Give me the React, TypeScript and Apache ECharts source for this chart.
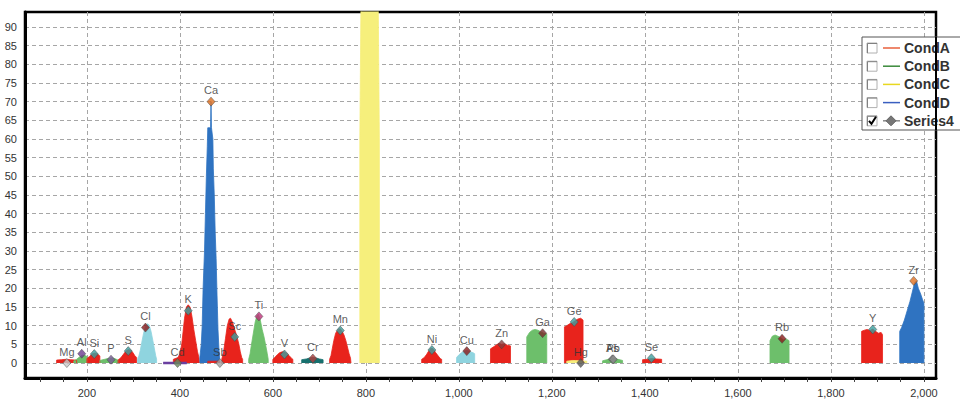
import React, { useEffect, useRef } from "react";
import * as echarts from "echarts";

// ---- data ----
const xLabelTicks = [200, 400, 600, 800, 1000, 1200, 1400, 1600, 1800, 2000];
const xMinorTicks = [100, 150, 200, 250, 300, 350, 400, 450, 500, 550, 600, 650, 700, 750, 800, 850, 900, 950, 1000, 1050, 1100, 1150, 1200, 1250, 1300, 1350, 1400, 1450, 1500, 1550, 1600, 1650, 1700, 1750, 1800, 1850, 1900, 1950, 2000];

const peakMg = [[135, 0], [135, 0.8], [145, 0.9], [155, 1.0], [165, 0.9], [175, 0.8], [178, 0.7], [178, 0]];
const peakAl = [[172, 0], [172, 0.6], [178, 1.0], [184, 1.6], [190, 2.1], [196, 2.0], [200, 1.8], [200, 0]];
const peakSi = [[200, 0], [200, 1.2], [206, 1.8], [212, 2.5], [218, 2.7], [223, 2.4], [228, 1.9], [228, 0]];
const peakP = [[228, 0], [228, 0.7], [238, 1.0], [248, 1.3], [255, 1.4], [262, 1.1], [267, 0.8], [267, 0]];
const peakS = [[267, 0], [267, 0.8], [273, 1.4], [279, 2.4], [284, 3.2], [289, 3.6], [294, 3.5], [299, 2.8], [303, 2.0], [307, 1.5], [307, 0]];
const peakCl = [[309, 0], [309, 1], [312, 2], [315, 3.5], [318, 5.5], [322, 8], [326, 9.8], [330, 10.5], [334, 10.2], [338, 8.5], [342, 6], [345, 4], [348, 2], [350, 1], [350, 0]];
const lineCd = [[364, 0], [415, 0]];
const peakK = [[386, 0], [386, 1], [396, 1.5], [400, 2.5], [404, 5], [407, 8.5], [410, 12], [414, 15], [418, 15.6], [422, 15], [426, 12.5], [430, 9], [434, 6], [438, 3], [441, 1.5], [442, 0]];
const peakCa = [[443, 0], [443, 1.5], [446, 5], [448, 10], [450, 20], [453, 30], [455, 40], [457, 50], [459, 58], [460, 63], [466, 63], [467, 70], [468, 63], [471, 60], [472, 52], [474, 45], [476, 35], [478, 28], [480, 18], [482, 9], [484, 4], [486, 0]];
const peakSb = [[460, 0], [460, 0.5], [486, 0.5], [486, 0]];
const peakSc = [[490, 0], [490, 1], [494, 3], [498, 6.5], [502, 10], [506, 11.8], [509, 12], [513, 11], [518, 9], [523, 7], [527, 5], [530, 3], [533, 1.5], [535, 1], [535, 0]];
const peakTi = [[548, 0], [548, 1], [551, 2.5], [554, 5], [558, 8], [562, 11], [566, 12.8], [569, 13], [573, 11.5], [577, 9], [581, 7], [585, 4.5], [588, 2.5], [590, 1], [590, 0]];
const peakV = [[600, 0], [600, 1], [605, 1.6], [610, 2.3], [615, 2.8], [620, 3.0], [625, 3.0], [630, 2.6], [635, 2.0], [640, 1.3], [643, 1], [643, 0]];
const peakCr = [[662, 0], [662, 0.9], [672, 1.1], [680, 1.4], [686, 1.6], [692, 1.4], [700, 1.1], [708, 0.9], [708, 0]];
const peakMn = [[722, 0], [722, 1], [725, 2], [728, 4], [731, 6], [735, 8], [740, 9], [745, 9.2], [749, 8.5], [753, 7.5], [757, 6], [761, 4], [764, 2.5], [767, 1.3], [768, 0]];
const peakFe = [[787, 0], [787, 60], [791, 120], [825, 120], [829, 60], [829, 0]];
const peakNi = [[920, 0], [920, 1.0], [925, 1.4], [930, 2.2], [935, 3.2], [940, 4.0], [945, 3.8], [950, 2.8], [955, 2.0], [960, 1.2], [963, 1.0], [963, 0]];
const peakCu = [[995, 0], [995, 1.5], [1000, 2.2], [1006, 2.8], [1012, 3.2], [1018, 3.4], [1024, 3.0], [1030, 2.8], [1034, 2.5], [1034, 0]];
const peakZn = [[1068, 0], [1068, 3.8], [1074, 4.3], [1080, 4.8], [1086, 5.3], [1092, 5.0], [1098, 5.2], [1104, 4.8], [1111, 4.6], [1111, 0]];
const peakGa = [[1146, 0], [1146, 7.0], [1152, 8.2], [1158, 8.8], [1164, 9.0], [1170, 8.8], [1176, 8.4], [1182, 8.0], [1189, 7.8], [1189, 0]];
const peakGe = [[1227, 0], [1227, 9.7], [1232, 10.0], [1238, 10.5], [1244, 10.8], [1250, 11.3], [1256, 11.8], [1262, 12.0], [1267, 11.5], [1267, 0]];
const peakHg = [[1232, 0], [1232, 0.5], [1245, 0.7], [1260, 0.6], [1275, 0.5], [1275, 0]];
const peakAsPb = [[1309, 0], [1309, 0.6], [1318, 0.9], [1326, 1.2], [1334, 1.3], [1342, 1.0], [1352, 0.7], [1352, 0]];
const peakSe = [[1395, 0], [1395, 0.9], [1405, 1.0], [1415, 1.2], [1425, 1.1], [1436, 1.0], [1436, 0]];
const peakRb = [[1669, 0], [1669, 6.0], [1674, 7.2], [1680, 7.5], [1686, 7.2], [1692, 6.8], [1698, 6.2], [1703, 6.5], [1710, 6.0], [1710, 0]];
const peakY = [[1866, 0], [1866, 8.5], [1872, 8.8], [1878, 9.0], [1884, 8.7], [1890, 9.1], [1896, 8.5], [1902, 8.0], [1908, 8.2], [1911, 7.6], [1911, 0]];
const peakZr = [[1948, 0], [1948, 8.5], [1952, 9.5], [1958, 11.5], [1964, 14], [1970, 16.5], [1975, 19], [1980, 21.5], [1984, 22], [1988, 20], [1993, 18.5], [1997, 17], [2000, 16], [2000, 0]];

// Series4: element markers
const markerNames = ["Mg", "Al", "Si", "P", "S", "Cl", "Cd", "K", "Ca", "Sb", "Sc", "Ti", "V", "Cr", "Mn", "Ni", "Cu", "Zn", "Ga", "Ge", "Hg", "As", "Pb", "Se", "Rb", "Y", "Zr"];
const markerX = [157, 189, 216, 252, 289, 326, 395, 418, 467, 486, 518, 570, 625, 686, 745, 942, 1017, 1092, 1180, 1248, 1262, 1330, 1332, 1414, 1695, 1890, 1978];
const markerY = [0, 2.5, 2.4, 0.9, 3.2, 9.5, 0, 14, 70, 0, 7, 12.5, 2.3, 1.2, 8.7, 3.5, 3.2, 5, 8, 11, 0, 1, 1, 1.3, 6.5, 9, 22];

const RED = "#e8231c";
const GREEN = "#6dbf6b";
const LBLUE = "#8fd4df";
const BLUE = "#2f73c1";
const YELLOW = "#f6ef7c";
const TEAL = "#17706e";

const markerColors = ["#c8c8c8", "#6b3b8e", "#3aa0a0", "#7a5a9a", "#3aa0a0", "#8b1a1a", "#6a8a5a", "#3aa0a0", "#e07020", "#a0a0a0", "#3aa0a0", "#c0307a", "#3aa0a0", "#b04040", "#3aa0a0", "#3aa0a0", "#8b1a1a", "#8b3a3a", "#7a2a2a", "#3aa0a0", "#555555", "#888888", "#888888", "#3aa0a0", "#8b1a1a", "#3aa0a0", "#e07020"];

const peaks: [string, number[][], string][] = [
  ["Mg", peakMg, RED],
  ["Al", peakAl, GREEN],
  ["Si", peakSi, RED],
  ["P", peakP, GREEN],
  ["S", peakS, RED],
  ["Cl", peakCl, LBLUE],
  ["K", peakK, RED],
  ["Ca", peakCa, BLUE],
  ["Sb", peakSb, RED],
  ["Sc", peakSc, RED],
  ["Ti", peakTi, GREEN],
  ["V", peakV, RED],
  ["Cr", peakCr, TEAL],
  ["Mn", peakMn, RED],
  ["Fe", peakFe, YELLOW],
  ["Ni", peakNi, RED],
  ["Cu", peakCu, LBLUE],
  ["Zn", peakZn, RED],
  ["Ga", peakGa, GREEN],
  ["Ge", peakGe, RED],
  ["Hg", peakHg, YELLOW],
  ["AsPb", peakAsPb, GREEN],
  ["Se", peakSe, RED],
  ["Rb", peakRb, GREEN],
  ["Y", peakY, RED],
  ["Zr", peakZr, BLUE],
];

const legendNames = ["CondA", "CondB", "CondC", "CondD", "Series4"];
const legendColors = ["#e8603c", "#3a8a3a", "#e8d820", "#3a5fc0", "#888888"];

const FONT = "'Liberation Sans', Arial, sans-serif";

function buildLegend(): any[] {
  const els: any[] = [];
  const x0 = 862, y0 = 37, rowH = 18.2;
  els.push({ type: "rect", z: 50, shape: { x: x0, y: y0, width: 120, height: 93 }, style: { fill: "#fff", stroke: "#555", lineWidth: 1 } });
  legendNames.forEach((name, i) => {
    const c = y0 + 11 + i * rowH;
    els.push({ type: "rect", z: 51, shape: { x: 867, y: c - 5, width: 10, height: 10 }, style: { fill: "#fff", stroke: "#b0b0b0", lineWidth: 1 } });
    els.push({ type: "polyline", z: 51, shape: { points: [[867.5, c + 5], [867.5, c - 4.5], [877, c - 4.5]] }, style: { stroke: "#808080", lineWidth: 1, fill: null } });
    els.push({ type: "line", z: 51, shape: { x1: 883, y1: c, x2: 900, y2: c }, style: { stroke: legendColors[i], lineWidth: 1.5 } });
    if (name === "Series4") {
      els.push({ type: "polygon", z: 52, shape: { points: [[891, c - 5], [896, c], [891, c + 5], [886, c]] }, style: { fill: "#777", stroke: "#666" } });
      els.push({ type: "polyline", z: 52, shape: { points: [[869, c], [871.5, c + 3], [876, c - 4]] }, style: { stroke: "#000", lineWidth: 2, fill: null } });
    }
    els.push({ type: "text", z: 52, x: 904, y: c, style: { text: name, font: `bold 14px ${FONT}`, fill: "#333", verticalAlign: "middle", align: "left" } });
  });
  // plot right border running over the legend
  els.push({ type: "line", z: 60, shape: { x1: 936, y1: y0, x2: 936, y2: y0 + 93 }, style: { stroke: "#000", lineWidth: 2 } });
  return els;
}

export default function App() {
  const ref = useRef<HTMLDivElement>(null);
  useEffect(() => {
    if (!ref.current) return;
    const chart = echarts.init(ref.current, null, { renderer: "svg" });
    const gridLine = { show: true, showMinLine: false, showMaxLine: false, lineStyle: { color: "#a6a6a6", type: [4, 3], width: 1 } };
    const series: any[] = peaks.map(([name, data, color]) => ({
      name,
      type: "line",
      data,
      xAxisIndex: 0,
      symbol: "none",
      showSymbol: false,
      silent: true,
      clip: true,
      lineStyle: { color, width: 0.8 },
      itemStyle: { color },
      areaStyle: { color, opacity: 1 },
    }));
    series.splice(7, 0, {
      name: "CdLine",
      type: "line",
      data: lineCd,
      symbol: "none",
      silent: true,
      lineStyle: { color: "#6a3fa0", width: 2.5 },
    });
    series.push({
      name: "Series4",
      type: "scatter",
      symbol: "diamond",
      symbolSize: [8, 9],
      z: 5,
      data: markerNames.map((n, i) => ({
        name: n,
        value: [markerX[i], markerY[i]],
        itemStyle: { color: markerColors[i], borderColor: "#444", borderWidth: 0.6 },
      })),
      label: {
        show: true,
        position: "top",
        distance: 1,
        formatter: (p: any) => p.name,
        color: "#333",
        fontSize: 11,
        fontFamily: FONT,
      },
    });
    chart.setOption({
      animation: false,
      backgroundColor: "#fff",
      grid: { left: 25, right: 24, top: 12, bottom: 26, show: true, borderColor: "#000", borderWidth: 2.5, backgroundColor: "transparent" },
      xAxis: [
        {
          type: "value",
          min: 67,
          max: 2026,
          minInterval: 200,
          maxInterval: 200,
          axisLine: { show: true, onZero: false, lineStyle: { color: "#000", width: 3 } },
          axisTick: { show: false },
          splitLine: gridLine,
          axisLabel: {
            color: "#333",
            fontSize: 11,
            fontFamily: FONT,
            margin: 9,
            showMinLabel: false,
            showMaxLabel: false,
            formatter: (v: number) => (xLabelTicks.includes(v) ? v.toLocaleString("en-US") : ""),
          },
        },
        {
          type: "value",
          min: 67,
          max: 2026,
          position: "bottom",
          axisLine: { show: false, onZero: false },
          axisTick: { show: true, length: 4, customValues: xMinorTicks, lineStyle: { color: "#444" } },
          axisLabel: { show: false },
          splitLine: { show: false },
        },
      ],
      yAxis: {
        type: "value",
        min: -4,
        max: 94,
        minInterval: 5,
        maxInterval: 5,
        axisLine: { show: true, onZero: false, lineStyle: { color: "#000", width: 3 } },
        axisTick: { show: false },
        splitLine: gridLine,
        axisLabel: { color: "#333", fontSize: 11, fontFamily: FONT, margin: 8, showMinLabel: false, showMaxLabel: false },
      },
      graphic: buildLegend(),
      series,
    });
    return () => chart.dispose();
  }, []);
  return <div ref={ref} style={{ position: "fixed", left: 0, top: 0, width: 960, height: 404 }} />;
}
